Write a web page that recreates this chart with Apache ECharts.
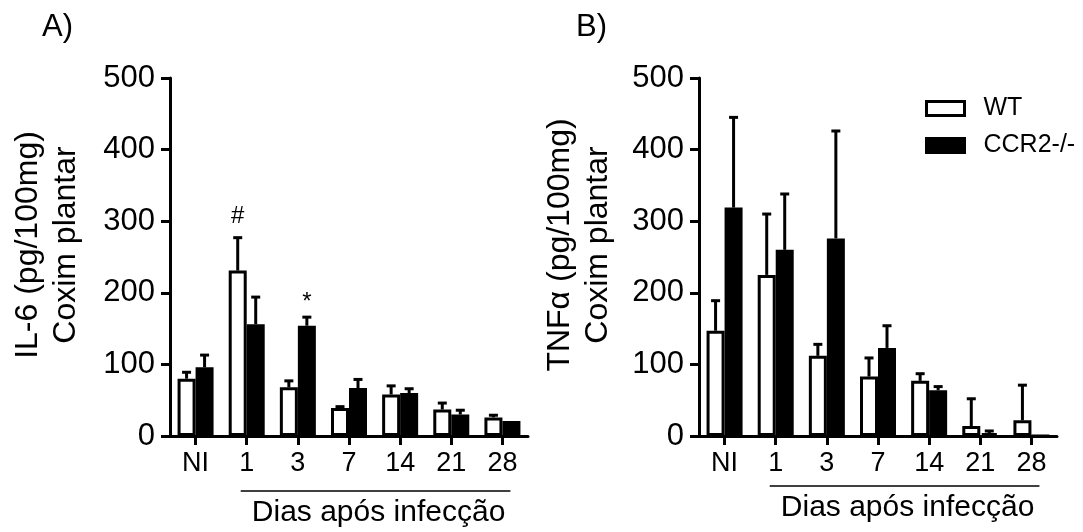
<!DOCTYPE html>
<html><head><meta charset="utf-8">
<script src="https://cdn.jsdelivr.net/npm/echarts@6/dist/echarts.min.js"></script>
<style>html,body{margin:0;padding:0;background:#fff}#c{width:1083px;height:532px}</style>
</head><body><div id="c"></div>
<script>
const categories = ['NI', '1', '3', '7', '14', '21', '28'];
const yTicks = [0, 100, 200, 300, 400, 500];
// Panel A: IL-6
const il6WT = [80, 231, 68, 39, 58, 37, 26];
const il6WTErr = [9, 46, 9, 2, 12, 9, 3];
const il6KO = [96, 156, 154, 67, 60, 30, 21];
const il6KOErr = [17, 38, 12, 12, 6, 6, 0];
const il6WTNotes = ['', '#', '', '', '', '', ''];
const il6KONotes = ['', '', '*', '', '', '', ''];
// Panel B: TNF-alpha
const tnfWT = [147, 225, 112, 83, 77, 14, 22];
const tnfWTErr = [42, 85, 16, 26, 10, 38, 49];
const tnfKO = [319, 260, 276, 123, 64, 4, 0];
const tnfKOErr = [126, 78, 150, 31, 5, 3, 0];
const noNotes = ['', '', '', '', '', '', ''];

const FF = 'Liberation Sans, Arial, sans-serif';
const BAR_W = 18;

function xAxis(gi) {
  return {
    type: 'category', gridIndex: gi, data: categories,
    axisLine: {show: true, lineStyle: {color: '#000', width: 3}},
    axisTick: {show: true, alignWithLabel: true, length: 9, lineStyle: {color: '#000', width: 3}},
    axisLabel: {color: '#000', fontSize: 27, fontFamily: FF, margin: 14},
    splitLine: {show: false}
  };
}
function yAxis(gi, name, gap) {
  return {
    type: 'value', gridIndex: gi, min: yTicks[0], max: yTicks[yTicks.length - 1], interval: 100,
    axisLine: {show: true, lineStyle: {color: '#000', width: 3}},
    axisTick: {show: true, length: 9, lineStyle: {color: '#000', width: 3}},
    axisLabel: {color: '#000', fontSize: 31, fontFamily: FF, margin: 15},
    splitLine: {show: false},
    name: name, nameLocation: 'middle', nameGap: gap, nameRotate: 90,
    nameTextStyle: {color: '#000', fontSize: 32, lineHeight: 38, fontFamily: FF, padding: [0, 0, 0, 24]}
  };
}
function bars(name, gi, vals, hollow) {
  return {
    type: 'bar', name: name, xAxisIndex: gi, yAxisIndex: gi, data: vals,
    barWidth: BAR_W, barGap: '0%',
    itemStyle: hollow ? {color: '#fff', borderColor: '#000', borderWidth: 3}
                      : {color: '#000', borderColor: '#000', borderWidth: 3},
    emphasis: {disabled: true}, z: 2
  };
}
function errs(gi, vals, e, offset, notes) {
  return {
    type: 'custom', name: 'err' + gi + offset, xAxisIndex: gi, yAxisIndex: gi, z: 5,
    data: vals.map((v, i) => [i, v, v + e[i]]),
    renderItem(params, api) {
      const i = api.value(0);
      const lo = api.coord([i, api.value(1)]);
      const hi = api.coord([i, api.value(2)]);
      const x = lo[0] + offset;
      const ch = [];
      if (api.value(2) > api.value(1)) {
        ch.push({type: 'line', shape: {x1: x, y1: lo[1], x2: x, y2: hi[1]}, style: {stroke: '#000', lineWidth: 3}});
        ch.push({type: 'line', shape: {x1: x - 4.5, y1: hi[1], x2: x + 4.5, y2: hi[1]}, style: {stroke: '#000', lineWidth: 3}});
      }
      const n = notes[params.dataIndex];
      if (n) {
        ch.push({type: 'text', style: {text: n, x: x, y: hi[1] - (n === '*' ? 3 : 9), align: 'center', verticalAlign: 'bottom',
          font: '24px ' + FF, fill: '#000'}});
      }
      return {type: 'group', children: ch};
    }
  };
}

const chart = echarts.init(document.getElementById('c'), null, {renderer: 'canvas'});
chart.setOption({
  backgroundColor: '#fff',
  animation: false,
  grid: [
    {left: 170, right: 555, top: 78, bottom: 96},
    {left: 699, right: 26, top: 78, bottom: 96}
  ],
  xAxis: [xAxis(0), xAxis(1)],
  yAxis: [yAxis(0, 'IL-6 (pg/100mg)\nCoxim plantar', 85), yAxis(1, 'TNFα (pg/100mg)\nCoxim plantar', 82)],
  legend: {
    orient: 'vertical', left: 920, top: 91, itemWidth: 38, itemHeight: 14, itemGap: 12,
    icon: 'rect', selectedMode: false,
    data: [
      {name: 'WT', itemStyle: {color: '#fff', borderColor: '#000', borderWidth: 3}},
      {name: 'CCR2-/-', itemStyle: {color: '#000', borderColor: '#000', borderWidth: 3}}
    ],
    textStyle: {color: '#000', fontSize: 25, fontFamily: FF, lineHeight: 15, padding: [0, 0, 0, 14]}
  },
  series: [
    bars('WT', 0, il6WT, true), bars('CCR2-/-', 0, il6KO, false),
    bars('WT', 1, tnfWT, true), bars('CCR2-/-', 1, tnfKO, false),
    errs(0, il6WT, il6WTErr, -BAR_W / 2, il6WTNotes), errs(0, il6KO, il6KOErr, BAR_W / 2, il6KONotes),
    errs(1, tnfWT, tnfWTErr, -BAR_W / 2, noNotes), errs(1, tnfKO, tnfKOErr, BAR_W / 2, noNotes)
  ]
});

function decor(gi, lineY, textY, label, labelX) {
  const a = chart.convertToPixel({xAxisIndex: gi}, categories[1]);
  const b = chart.convertToPixel({xAxisIndex: gi}, categories[categories.length - 1]);
  return [
    {type: 'line', shape: {x1: a - 6, y1: lineY, x2: b + 8, y2: lineY}, style: {stroke: '#000', lineWidth: 1.5}},
    {type: 'text', x: (a + b) / 2 + 4, y: textY, style: {text: 'Dias após infecção', align: 'center', verticalAlign: 'middle',
      font: '30px ' + FF, fill: '#000'}},
    {type: 'text', x: labelX, y: 27, style: {text: label, align: 'left', verticalAlign: 'middle', font: '31px ' + FF, fill: '#000'}}
  ];
}
chart.setOption({graphic: [].concat(decor(0, 491, 513, 'A)', 42), decor(1, 486, 508, 'B)', 576))});
</script></body></html>
